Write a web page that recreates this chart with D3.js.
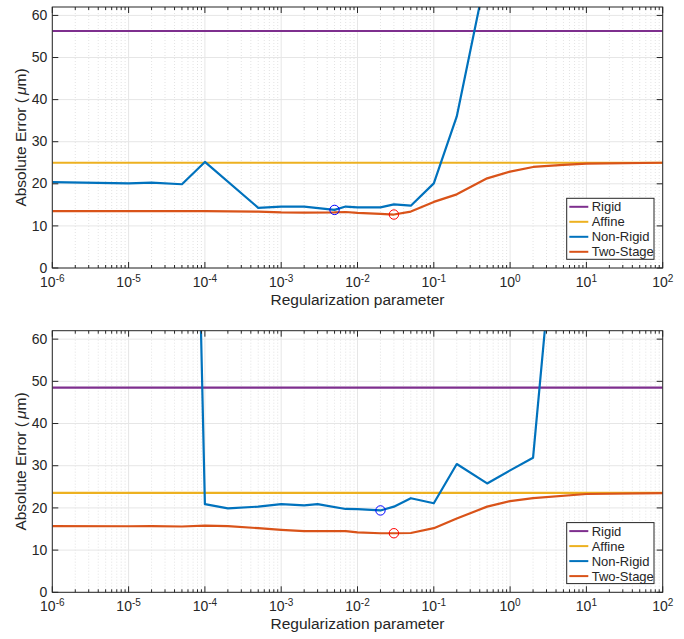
<!DOCTYPE html>
<html><head><meta charset="utf-8">
<script src="https://cdn.jsdelivr.net/npm/d3@7"></script>
<style>body{margin:0;background:#fff}svg{display:block}text{font-family:"Liberation Sans",Arial,Helvetica,sans-serif;fill:#262626}</style>
</head><body>
<script>
// ---- data ----
const seriesNames = ["Rigid", "Affine", "Non-Rigid", "Two-Stage"];
const seriesColors = ["#7E2F8E", "#EDB120", "#0072BD", "#D95319"];
const xDomain = [1e-6, 1e2];
const yDomain = [0, 62];
const yTicks = [0, 10, 20, 30, 40, 50, 60];
const xTickExps = [-6, -5, -4, -3, -2, -1, 0, 1, 2];

// top panel
const rigid1 = 56.3;
const affine1 = 25.0;
const nrX1 = [1e-6, 1e-5, 2e-5, 5e-5, 1e-4, 5e-4, 1e-3, 2e-3, 5e-3, 7e-3, 1e-2, 2e-2, 3e-2, 5e-2, 0.1, 0.2, 0.5];
const nrY1 = [20.4, 20.1, 20.3, 19.9, 25.2, 14.3, 14.6, 14.6, 13.8, 14.6, 14.4, 14.4, 15.1, 14.8, 20.1, 36.0, 71.0];
const tsX1 = [1e-6, 1e-5, 1e-4, 5e-4, 1e-3, 2e-3, 5e-3, 7e-3, 1e-2, 2e-2, 3e-2, 5e-2, 0.1, 0.2, 0.5, 1, 2, 5, 10, 100];
const tsY1 = [13.5, 13.5, 13.5, 13.4, 13.2, 13.15, 13.2, 13.3, 13.1, 12.85, 12.7, 13.4, 15.7, 17.5, 21.3, 22.9, 24.0, 24.5, 24.8, 25.0];
const nrBest1 = [5e-3, 13.8];
const tsBest1 = [3e-2, 12.7];

// bottom panel
const rigid2 = 48.5;
const affine2 = 23.55;
const nrX2 = [5e-5, 1e-4, 2e-4, 5e-4, 1e-3, 2e-3, 3e-3, 7e-3, 1e-2, 2e-2, 3e-2, 5e-2, 0.1, 0.2, 0.5, 1, 2, 5];
const nrY2 = [262, 20.9, 19.9, 20.3, 20.9, 20.6, 20.9, 19.75, 19.7, 19.4, 20.3, 22.3, 21.1, 30.4, 25.8, 28.9, 31.9, 110];
const tsX2 = [1e-6, 1e-5, 2e-5, 5e-5, 1e-4, 2e-4, 5e-4, 1e-3, 2e-3, 7e-3, 1e-2, 2e-2, 3e-2, 5e-2, 0.1, 0.2, 0.5, 1, 2, 10, 100];
const tsY2 = [15.7, 15.65, 15.7, 15.6, 15.8, 15.7, 15.2, 14.8, 14.5, 14.5, 14.2, 14.0, 14.0, 14.05, 15.2, 17.5, 20.3, 21.6, 22.3, 23.3, 23.5];
const nrBest2 = [2e-2, 19.4];
const tsBest2 = [3e-2, 14.0];

const xLabel = "Regularization parameter";

// ---- drawing ----
const W = 684, H = 639;
const svg = d3.select("body").append("svg").attr("width", W).attr("height", H);

const panels = [
  {top: 7, bottom: 268, rigid: rigid1, affine: affine1, nrX: nrX1, nrY: nrY1, tsX: tsX1, tsY: tsY1, nrBest: nrBest1, tsBest: tsBest1},
  {top: 330.7, bottom: 592.3, rigid: rigid2, affine: affine2, nrX: nrX2, nrY: nrY2, tsX: tsX2, tsY: tsY2, nrBest: nrBest2, tsBest: tsBest2}
];
const left = 52.3, right = 662.7;

const minorVals = [];
for (let e = -6; e < 2; e++) for (let m = 2; m <= 9; m++) minorVals.push(m * Math.pow(10, e));

panels.forEach((p, i) => {
  const x = d3.scaleLog().domain(xDomain).range([left, right]);
  const y = d3.scaleLinear().domain(yDomain).range([p.bottom, p.top]);
  const g = svg.append("g");
  const clipId = "clip" + i;
  g.append("clipPath").attr("id", clipId).append("rect")
    .attr("x", left).attr("y", p.top).attr("width", right - left).attr("height", p.bottom - p.top);

  // grid
  g.append("g").selectAll("line").data(minorVals).join("line")
    .attr("x1", d => x(d)).attr("x2", d => x(d)).attr("y1", p.top).attr("y2", p.bottom)
    .attr("stroke", "#dcdcdc").attr("stroke-width", 0.8).attr("stroke-dasharray", "1,2");
  g.append("g").selectAll("line").data(xTickExps).join("line")
    .attr("x1", d => x(Math.pow(10, d))).attr("x2", d => x(Math.pow(10, d))).attr("y1", p.top).attr("y2", p.bottom)
    .attr("stroke", "#e6e6e6").attr("stroke-width", 1);
  g.append("g").selectAll("line").data(yTicks).join("line")
    .attr("x1", left).attr("x2", right).attr("y1", d => y(d)).attr("y2", d => y(d))
    .attr("stroke", "#e6e6e6").attr("stroke-width", 1);

  // series
  const line = d3.line().x(d => x(d[0])).y(d => y(d[1]));
  const plot = g.append("g").attr("clip-path", `url(#${clipId})`);
  const data = [
    [[xDomain[0], p.rigid], [xDomain[1], p.rigid]],
    [[xDomain[0], p.affine], [xDomain[1], p.affine]],
    p.nrX.map((v, k) => [v, p.nrY[k]]),
    p.tsX.map((v, k) => [v, p.tsY[k]])
  ];
  data.forEach((d, k) => {
    plot.append("path").attr("d", line(d)).attr("fill", "none")
      .attr("stroke", seriesColors[k]).attr("stroke-width", 2.2).attr("stroke-linejoin", "round");
  });
  plot.append("circle").attr("cx", x(p.nrBest[0])).attr("cy", y(p.nrBest[1])).attr("r", 4.7)
    .attr("fill", "none").attr("stroke", "#0000ff").attr("stroke-width", 1);
  plot.append("circle").attr("cx", x(p.tsBest[0])).attr("cy", y(p.tsBest[1])).attr("r", 4.7)
    .attr("fill", "none").attr("stroke", "#ff0000").attr("stroke-width", 1);

  // axes box & ticks
  const axc = "#262626";
  const tk = g.append("g").attr("stroke", axc).attr("stroke-width", 1);
  xTickExps.forEach(e => {
    const xx = x(Math.pow(10, e));
    tk.append("line").attr("x1", xx).attr("x2", xx).attr("y1", p.bottom).attr("y2", p.bottom - 6);
    tk.append("line").attr("x1", xx).attr("x2", xx).attr("y1", p.top).attr("y2", p.top + 6);
  });
  minorVals.forEach(v => {
    const xx = x(v);
    tk.append("line").attr("x1", xx).attr("x2", xx).attr("y1", p.bottom).attr("y2", p.bottom - 3);
    tk.append("line").attr("x1", xx).attr("x2", xx).attr("y1", p.top).attr("y2", p.top + 3);
  });
  yTicks.forEach(v => {
    const yy = y(v);
    tk.append("line").attr("x1", left).attr("x2", left + 6).attr("y1", yy).attr("y2", yy);
    tk.append("line").attr("x1", right).attr("x2", right - 6).attr("y1", yy).attr("y2", yy);
  });
  g.append("rect").attr("x", left).attr("y", p.top).attr("width", right - left).attr("height", p.bottom - p.top)
    .attr("fill", "none").attr("stroke", axc).attr("stroke-width", 1);

  // tick labels
  yTicks.forEach(v => {
    g.append("text").attr("x", left - 5).attr("y", y(v)).attr("dy", "0.33em")
      .attr("text-anchor", "end").style("font-size", "14px").text(v);
  });
  xTickExps.forEach(e => {
    const t = g.append("text").attr("x", x(Math.pow(10, e))).attr("y", p.bottom + 19)
      .attr("text-anchor", "middle").style("font-size", "14px");
    t.append("tspan").text("10");
    t.append("tspan").attr("dy", -5.5).style("font-size", "10px").text(String(e));
  });
  // axis labels
  g.append("text").attr("x", (left + right) / 2).attr("y", p.bottom + 36.5)
    .attr("text-anchor", "middle").style("font-size", "15.5px").text(xLabel);
  const yl = g.append("text").attr("transform", `translate(26,${(p.top + p.bottom) / 2}) rotate(-90)`)
    .attr("text-anchor", "middle").style("font-size", "15.5px");
  yl.append("tspan").text("Absolute Error (");
  yl.append("tspan").style("font-style", "italic").text("\u2009\u03bc");
  yl.append("tspan").text("m)");

  // legend
  const lx = 566.7, ly = p.bottom - 69.7;
  const lg = g.append("g");
  lg.append("rect").attr("x", lx).attr("y", ly).attr("width", 87.3).attr("height", 61)
    .attr("fill", "#fff").attr("stroke", axc).attr("stroke-width", 1);
  seriesNames.forEach((n, k) => {
    const ry = ly + 8.5 + k * 15;
    lg.append("line").attr("x1", lx + 2.6).attr("x2", lx + 21.6).attr("y1", ry).attr("y2", ry)
      .attr("stroke", seriesColors[k]).attr("stroke-width", 2);
    lg.append("text").attr("x", lx + 25).attr("y", ry).attr("dy", "0.36em")
      .style("font-size", "13px").text(n);
  });
});
</script>
</body></html>
